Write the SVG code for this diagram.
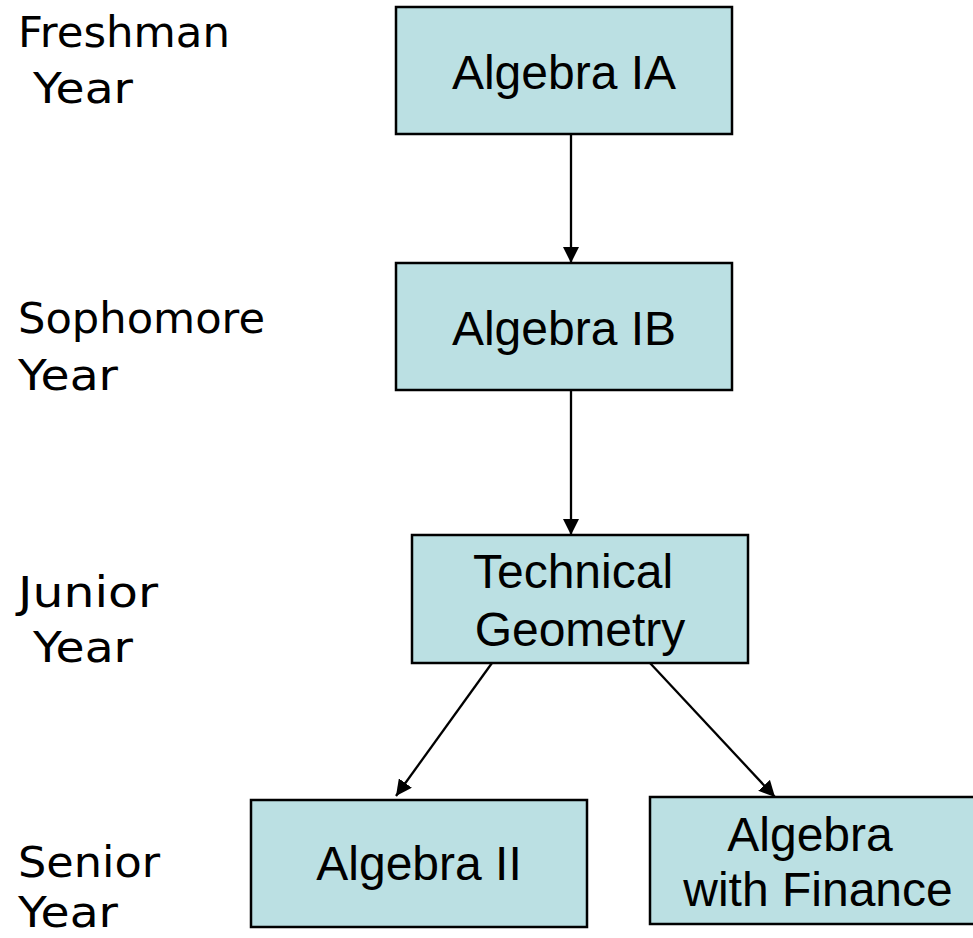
<svg xmlns="http://www.w3.org/2000/svg" width="973" height="938" viewBox="0 0 973 938">
<style>
.box{fill:#bbe0e3;stroke:#000;stroke-width:2.5}
.lbl{font-family:"Liberation Sans",Arial,sans-serif;font-size:48px;fill:#000}
.yr{font-family:"Comic Sans MS","DejaVu Sans",sans-serif;font-size:43px;fill:#000}
.conn{stroke:#000;stroke-width:2.3;fill:none}
</style>
<defs>
<marker id="arr" markerUnits="userSpaceOnUse" markerWidth="16" markerHeight="16" viewBox="0 0 16 16" refX="16" refY="8" orient="auto">
<path d="M0,0 L16,8 L0,16 Z" fill="#000"/>
</marker>
</defs>
<g id="year-labels">
<text class="yr" x="18" y="47" textLength="212" lengthAdjust="spacingAndGlyphs">Freshman</text>
<text class="yr" x="33" y="103" textLength="100" lengthAdjust="spacingAndGlyphs">Year</text>
<text class="yr" x="18" y="333" textLength="247" lengthAdjust="spacingAndGlyphs">Sophomore</text>
<text class="yr" x="18" y="390" textLength="100" lengthAdjust="spacingAndGlyphs">Year</text>
<text class="yr" x="18" y="607" textLength="140" lengthAdjust="spacingAndGlyphs">Junior</text>
<text class="yr" x="33" y="662" textLength="100" lengthAdjust="spacingAndGlyphs">Year</text>
<text class="yr" x="18" y="877" textLength="142" lengthAdjust="spacingAndGlyphs">Senior</text>
<text class="yr" x="18" y="927" textLength="100" lengthAdjust="spacingAndGlyphs">Year</text>
</g>
<g id="connectors">
<line class="conn" x1="571" y1="134" x2="571" y2="263" marker-end="url(#arr)"/>
<line class="conn" x1="571" y1="390" x2="571" y2="535" marker-end="url(#arr)"/>
<line class="conn" x1="492" y1="663" x2="396" y2="796" marker-end="url(#arr)"/>
<line class="conn" x1="650" y1="663" x2="775" y2="797" marker-end="url(#arr)"/>
</g>
<g id="algebra-ia">
<rect class="box" x="396" y="7" width="336" height="127"/>
<text class="lbl" x="564" y="89" text-anchor="middle">Algebra IA</text>
</g>
<g id="algebra-ib">
<rect class="box" x="396" y="263" width="336" height="127"/>
<text class="lbl" x="564" y="345" text-anchor="middle">Algebra IB</text>
</g>
<g id="technical-geometry">
<rect class="box" x="412" y="535" width="336" height="128"/>
<text class="lbl" x="573" y="588" text-anchor="middle">Technical</text>
<text class="lbl" x="580" y="646" text-anchor="middle">Geometry</text>
</g>
<g id="algebra-ii">
<rect class="box" x="251" y="800" width="336" height="127"/>
<text class="lbl" x="419" y="880" text-anchor="middle">Algebra II</text>
</g>
<g id="algebra-finance">
<rect class="box" x="650" y="797" width="336" height="127"/>
<text class="lbl" x="810" y="851" text-anchor="middle">Algebra</text>
<text class="lbl" x="818" y="906" text-anchor="middle">with Finance</text>
</g>
</svg>
